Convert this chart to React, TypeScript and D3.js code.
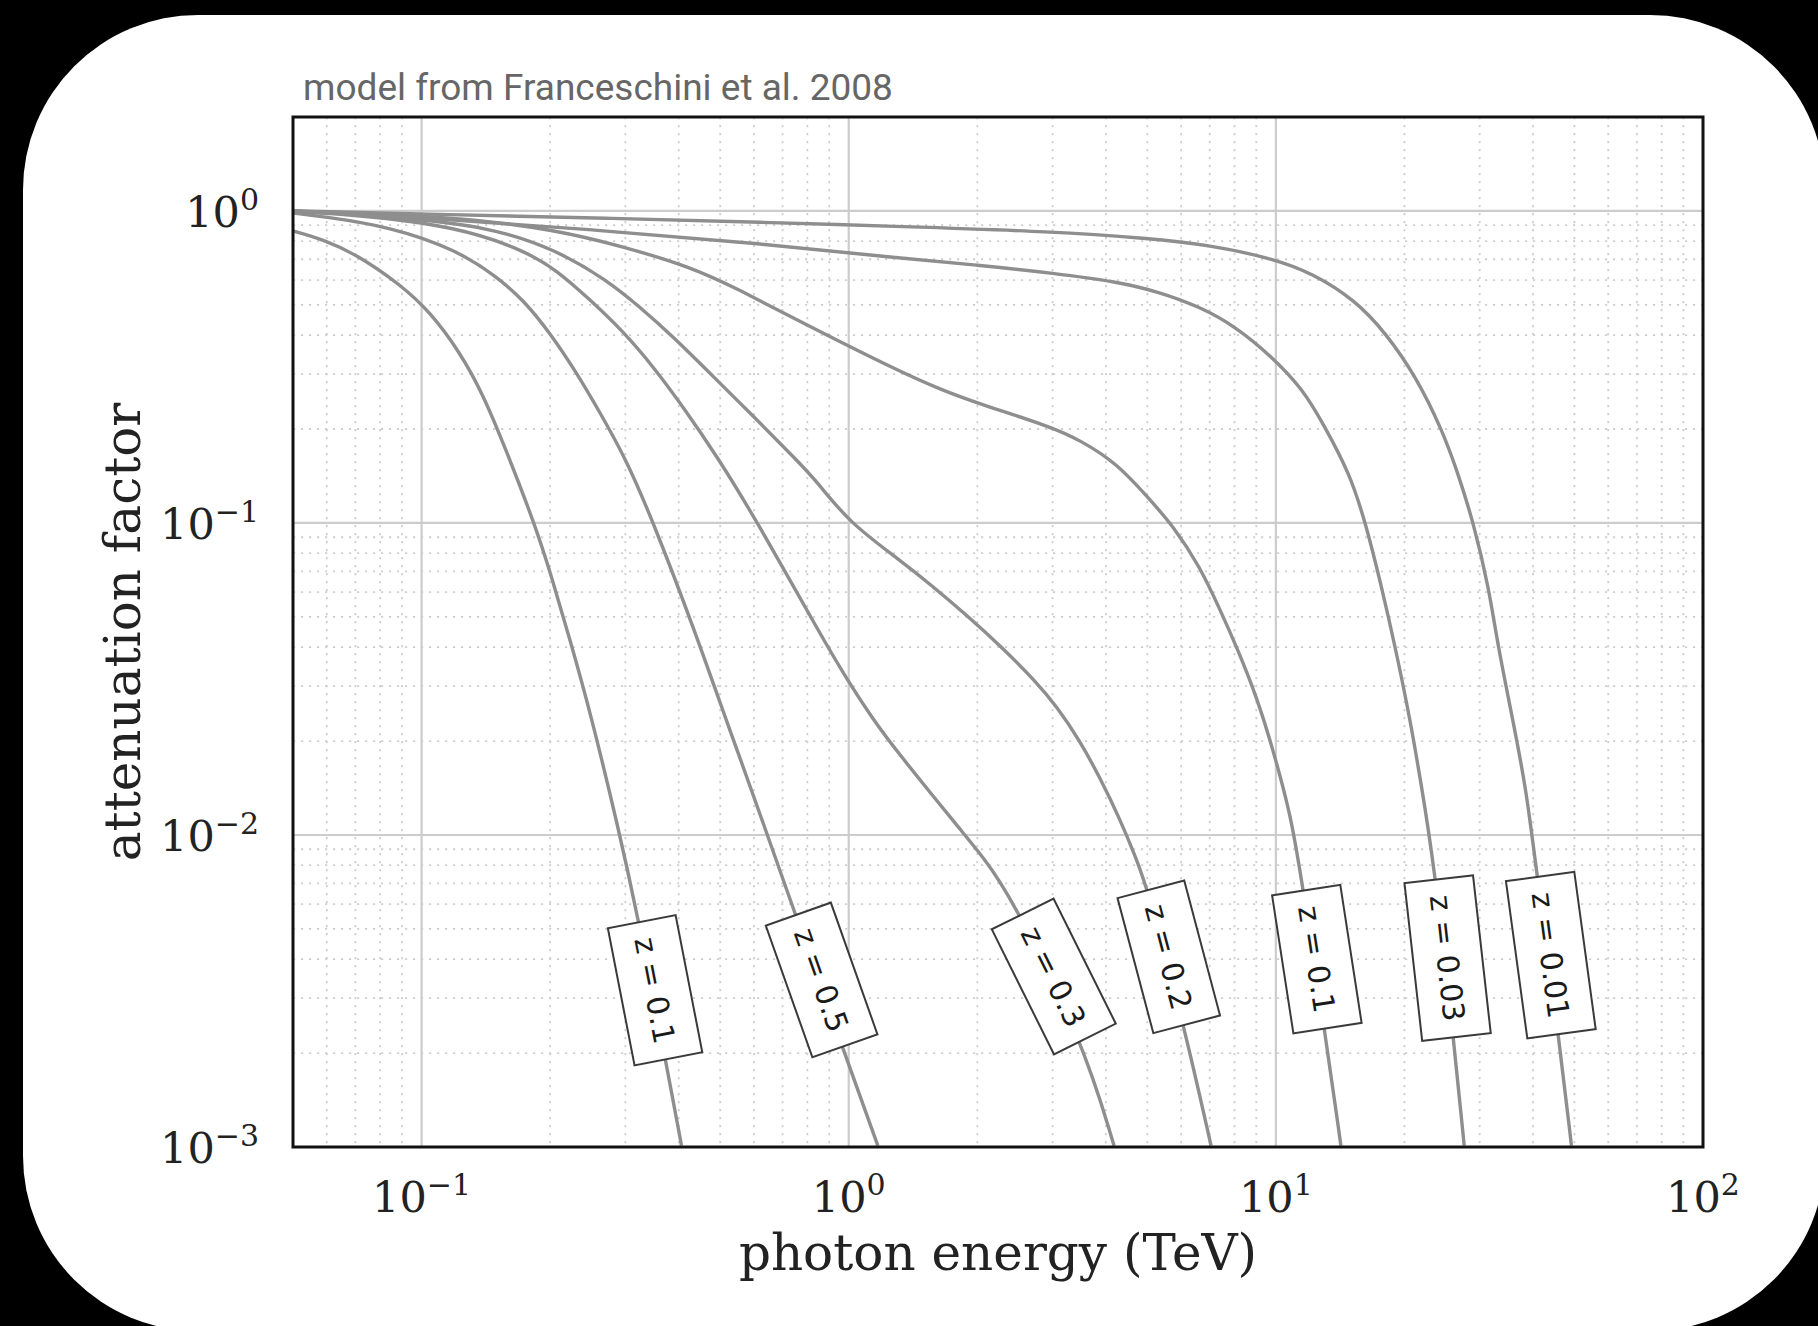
import React from "react";
import * as d3 from "d3";

// ---------- data ----------
const xDomain: [number, number] = [0.05, 100];
const yDomain: [number, number] = [0.001, 2];
const xTickExps = [-1, 0, 1, 2];
const yTickExps = [0, -1, -2, -3];

const titleText = "model from Franceschini et al. 2008";
const xAxisTitle = "photon energy (TeV)";
const yAxisTitle = "attenuation factor";

const labelTexts = ["z = 0.1", "z = 0.5", "z = 0.3", "z = 0.2", "z = 0.1", "z = 0.03", "z = 0.01"];
const labelLevels = [0.00318, 0.00343, 0.00352, 0.00407, 0.0040, 0.00403, 0.00412];

const energyC1 = [0.05, 0.0589, 0.0705, 0.0889, 0.1047, 0.123, 0.139, 0.157, 0.185, 0.201, 0.223, 0.248, 0.289, 0.319, 0.369, 0.406];
const attenC1 = [0.863, 0.81, 0.725, 0.583, 0.475, 0.352, 0.26, 0.174, 0.0973, 0.0681, 0.0418, 0.0249, 0.0105, 0.00568, 0.00204, 0.00101];

const energyC2 = [0.05, 0.0589, 0.0843, 0.121, 0.15, 0.173, 0.2, 0.231, 0.262, 0.302, 0.35, 0.437, 0.508, 0.556, 0.637, 0.738, 0.948, 1.17];
const attenC2 = [0.985, 0.959, 0.891, 0.75, 0.615, 0.519, 0.406, 0.302, 0.225, 0.159, 0.0993, 0.0448, 0.0249, 0.0177, 0.0105, 0.00593, 0.00225, 0.00101];

const energyC3 = [0.05, 0.0705, 0.121, 0.173, 0.207, 0.248, 0.2965, 0.348, 0.41, 0.491, 0.608, 0.872, 0.971, 1.14, 1.32, 1.55, 1.82, 2.07, 2.39, 3.52, 4.18];
const attenC3 = [0.995, 0.971, 0.891, 0.75, 0.647, 0.519, 0.411, 0.318, 0.235, 0.164, 0.102, 0.0423, 0.033, 0.0234, 0.018, 0.0137, 0.01045, 0.00845, 0.00641, 0.00221, 0.00101];

const energyC4 = [0.05, 0.0843, 0.1445, 0.207, 0.271, 0.324, 0.388, 0.473, 0.61, 0.755, 0.838, 1.0, 1.32, 1.56, 1.89, 2.3, 2.72, 3.07, 3.48, 3.87, 4.32, 4.7, 5.02, 6.1, 7.05];
const attenC4 = [1.0, 0.959, 0.891, 0.75, 0.601, 0.493, 0.395, 0.302, 0.214, 0.159, 0.137, 0.1005, 0.0759, 0.0632, 0.0506, 0.0396, 0.0314, 0.0258, 0.02, 0.0153, 0.0112, 0.00847, 0.00667, 0.00244, 0.00101];

const energyC5 = [0.05, 0.121, 0.207, 0.296, 0.425, 0.556, 0.769, 1.32, 1.65, 2.0, 2.96, 3.49, 4.25, 5.01, 5.77, 6.64, 7.41, 8.11, 9.02, 9.86, 10.8, 11.3, 13.0, 14.2];
const attenC5 = [1.0, 0.959, 0.869, 0.769, 0.663, 0.558, 0.442, 0.305, 0.267, 0.242, 0.204, 0.184, 0.155, 0.121, 0.0973, 0.0724, 0.0526, 0.0398, 0.0277, 0.0187, 0.0117, 0.00832, 0.0024, 0.00101];

const energyC6 = [0.05, 0.1, 0.251, 0.631, 1.32, 2.0, 3.04, 4.25, 5.31, 6.64, 8.05, 9.79, 11.6, 12.9, 14.9, 16.2, 17.6, 19.1, 20.7, 21.8, 23.4, 26.1, 27.6];
const attenC6 = [1.0, 0.955, 0.871, 0.785, 0.705, 0.671, 0.631, 0.593, 0.551, 0.493, 0.426, 0.341, 0.267, 0.208, 0.144, 0.1005, 0.0641, 0.0392, 0.0228, 0.015, 0.00832, 0.0022, 0.00101];

const energyC7 = [0.05, 0.116, 0.27, 0.631, 1.32, 3.04, 5.01, 7.01, 9.79, 12.2, 15.3, 18.1, 21.3, 24.5, 26.7, 29.0, 31.6, 32.9, 36.0, 38.6, 40.8, 46.0, 49.2];
const attenC7 = [1.0, 0.973, 0.948, 0.92, 0.891, 0.859, 0.817, 0.778, 0.705, 0.631, 0.519, 0.406, 0.294, 0.199, 0.144, 0.1005, 0.061, 0.0422, 0.0228, 0.0139, 0.00753, 0.00225, 0.00101];

const seriesEnergy = [energyC1, energyC2, energyC3, energyC4, energyC5, energyC6, energyC7];
const seriesAtten = [attenC1, attenC2, attenC3, attenC4, attenC5, attenC6, attenC7];

// ---------- layout ----------
const W = 1818;
const H = 1326;
const M = { left: 293, right: 1703, top: 117, bottom: 1147 };

const LABEL_FONT = 30;
let measureCtx: CanvasRenderingContext2D | null = null;
function textWidth(s: string, font: string): number {
  if (!measureCtx) {
    const c = document.createElement("canvas");
    measureCtx = c.getContext("2d");
  }
  if (!measureCtx) return s.length * 15;
  measureCtx.font = font;
  return measureCtx.measureText(s).width;
}

function supText(e: number): string {
  return e < 0 ? "\u2212" + String(-e) : String(e);
}

export default function App() {
  const x = d3.scaleLog().domain(xDomain).range([M.left, M.right]);
  const y = d3.scaleLog().domain(yDomain).range([M.bottom, M.top]);

  const line = d3
    .line<[number, number]>()
    .x((d) => x(d[0]))
    .y((d) => y(d[1]))
    .curve(d3.curveBasis);

  // grid values
  const xMinor: number[] = [];
  for (let d = -2; d <= 1; d++) {
    for (let k = 2; k <= 9; k++) {
      const v = k * Math.pow(10, d);
      if (v > xDomain[0] * 1.0001 && v < xDomain[1] * 0.9999) xMinor.push(v);
    }
  }
  const yMinor: number[] = [];
  for (let d = -3; d <= 0; d++) {
    for (let k = 2; k <= 9; k++) {
      const v = k * Math.pow(10, d);
      if (v > yDomain[0] * 1.0001 && v < yDomain[1] * 0.9999) yMinor.push(v);
    }
  }

  const curves = seriesEnergy.map((E, i) =>
    E.map((e, j) => [e, seriesAtten[i][j]] as [number, number])
  );

  const labels = curves.map((pts, i) => {
    const level = labelLevels[i];
    let k = 0;
    for (let j = 0; j < pts.length - 1; j++) {
      if (pts[j][1] >= level && pts[j + 1][1] <= level) {
        k = j;
        break;
      }
    }
    const p0 = [x(pts[k][0]), y(pts[k][1])];
    const p1 = [x(pts[k + 1][0]), y(pts[k + 1][1])];
    const ly = y(level);
    const t = (ly - p0[1]) / (p1[1] - p0[1]);
    const lx = p0[0] + t * (p1[0] - p0[0]);
    const ang = (Math.atan2(p1[1] - p0[1], p1[0] - p0[0]) * 180) / Math.PI;
    const tw = textWidth(labelTexts[i], `${LABEL_FONT}px 'DejaVu Sans'`);
    return { lx, ly, ang, tw, text: labelTexts[i] };
  });

  const serif = "'DejaVu Serif', serif";

  return (
    <div style={{ position: "fixed", left: 0, top: 0, width: W, height: H }}>
      <svg width={W} height={H} viewBox={`0 0 ${W} ${H}`} style={{ display: "block" }}>
        <rect x={0} y={0} width={W} height={H} fill="#000" />
        <rect x={23} y={15} width={1802} height={1316} rx={175} ry={175} fill="#fff" />

        <defs>
          <clipPath id="plotClip">
            <rect x={M.left} y={M.top} width={M.right - M.left} height={M.bottom - M.top} />
          </clipPath>
        </defs>

        {/* minor grid */}
        <g stroke="#cfcfcf" strokeWidth={1.8} strokeDasharray="2.2,5.8" fill="none">
          {xMinor.map((v) => (
            <line key={"xm" + v} x1={x(v)} x2={x(v)} y1={M.top} y2={M.bottom} />
          ))}
          {yMinor.map((v) => (
            <line key={"ym" + v} x1={M.left} x2={M.right} y1={y(v)} y2={y(v)} />
          ))}
        </g>
        {/* major grid */}
        <g stroke="#cccccc" strokeWidth={2.2} fill="none">
          {xTickExps.map((e) => (
            <line key={"xM" + e} x1={x(Math.pow(10, e))} x2={x(Math.pow(10, e))} y1={M.top} y2={M.bottom} />
          ))}
          {yTickExps.map((e) => (
            <line key={"yM" + e} x1={M.left} x2={M.right} y1={y(Math.pow(10, e))} y2={y(Math.pow(10, e))} />
          ))}
        </g>

        {/* curves */}
        <g clipPath="url(#plotClip)" fill="none" stroke="#8e8e8e" strokeWidth={3.4} strokeLinejoin="round">
          {curves.map((pts, i) => (
            <path key={"c" + i} d={line(pts) || ""} />
          ))}
        </g>

        {/* inline labels */}
        {labels.map((l, i) => {
          const bw = l.tw + 32;
          const bh = 69;
          return (
            <g key={"l" + i} transform={`translate(${l.lx + 3},${l.ly}) rotate(${l.ang})`}>
              <rect x={-bw / 2} y={-bh / 2} width={bw} height={bh} fill="#fff" stroke="#3a3a3a" strokeWidth={2} />
              <text
                x={0}
                y={0}
                dy="0.36em"
                textAnchor="middle"
                fontFamily="'DejaVu Sans', sans-serif"
                fontSize={LABEL_FONT}
                fill="#1a1a1a"
              >
                {l.text}
              </text>
            </g>
          );
        })}

        {/* frame */}
        <rect
          x={M.left}
          y={M.top}
          width={M.right - M.left}
          height={M.bottom - M.top}
          fill="none"
          stroke="#111"
          strokeWidth={3}
        />

        {/* x tick labels */}
        {xTickExps.map((e) => (
          <text
            key={"xt" + e}
            x={x(Math.pow(10, e))}
            y={1212}
            textAnchor="middle"
            fontFamily={serif}
            fontSize={43}
            fill="#222"
          >
            10
            <tspan dy={-17} fontSize={30}>
              {supText(e)}
            </tspan>
          </text>
        ))}

        {/* y tick labels */}
        {yTickExps.map((e) => (
          <text
            key={"yt" + e}
            x={259}
            y={y(Math.pow(10, e)) + 16}
            textAnchor="end"
            fontFamily={serif}
            fontSize={43}
            fill="#222"
          >
            10
            <tspan dy={-17} fontSize={30}>
              {supText(e)}
            </tspan>
          </text>
        ))}

        {/* axis titles */}
        <text
          x={(M.left + M.right) / 2}
          y={1270}
          textAnchor="middle"
          fontFamily={serif}
          fontSize={50}
          fill="#222"
        >
          {xAxisTitle}
        </text>
        <text
          transform={`translate(140,${(M.top + M.bottom) / 2}) rotate(-90)`}
          textAnchor="middle"
          fontFamily={serif}
          fontSize={50}
          fill="#222"
        >
          {yAxisTitle}
        </text>

        {/* title */}
        <text x={303} y={100} fontFamily="Roboto, sans-serif" fontSize={37} fill="#666">
          {titleText}
        </text>
      </svg>
    </div>
  );
}
